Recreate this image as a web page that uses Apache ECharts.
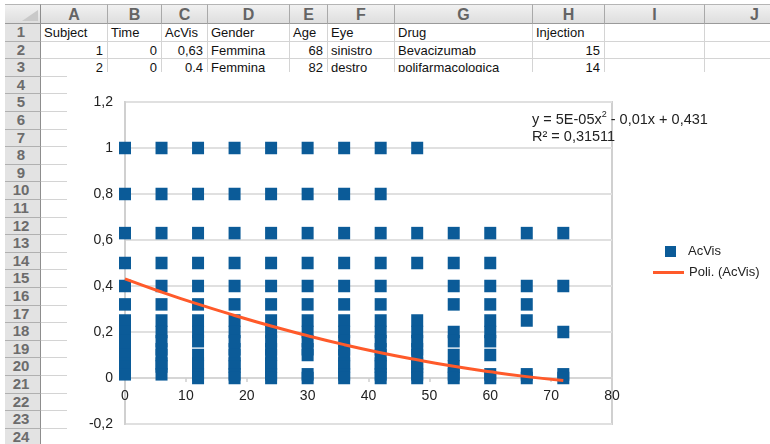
<!DOCTYPE html>
<html>
<head>
<meta charset="utf-8">
<script src="https://cdn.jsdelivr.net/npm/echarts/dist/echarts.min.js"></script>
<style>
html,body{margin:0;padding:0;background:#fff;width:770px;height:444px;overflow:hidden;font-family:"Liberation Sans",Arial,sans-serif;}
#sheet{position:absolute;left:0;top:0;width:770px;height:444px;overflow:hidden;}
.cell{position:absolute;box-sizing:border-box;border-right:1px solid #d4d4d4;border-bottom:1px solid #d4d4d4;font-size:13px;color:#111;white-space:nowrap;overflow:visible;padding:1px 4px 0 3px;}
.colh{position:absolute;box-sizing:border-box;background:linear-gradient(#f1f1f1,#dedede);border-right:1px solid #a9a9a9;border-bottom:1px solid #9a9a9a;border-top:1px solid #b5b5b5;text-align:center;font-weight:bold;font-size:16px;color:#646464;}
.rowh{position:absolute;box-sizing:border-box;background:#e3e3e3;border-right:1px solid #8d8d8d;border-bottom:1px solid #b0b0b0;text-align:center;font-weight:bold;font-size:15px;color:#6c6c6c;padding-right:3px;}
#chartbg{position:absolute;left:67px;top:72px;width:703px;height:372px;background:#fff;}
#chart{position:absolute;left:0;top:0;width:770px;height:444px;}
</style>
</head>
<body>
<div id="sheet"></div>
<div id="chartbg"></div>
<div id="chart"></div>
<script>
// ---------- spreadsheet content ----------
const colLetters = ['A','B','C','D','E','F','G','H','I','J'];
const row1Cells = ['Subject','Time','AcVis','Gender','Age','Eye','Drug','Injection','',''];
const row2Cells = ['1','0','0,63','Femmina','68','sinistro','Bevacizumab','15','',''];
const row3Cells = ['2','0','0,4','Femmina','82','destro','polifarmacologica','14','',''];
const rowCount = 24;

// ---------- chart data ----------
const timePoints = [0, 6, 12, 18, 24, 30, 36, 42, 48, 54, 60, 66, 72];
const acvisT0  = [1, 0.8, 0.63, 0.5, 0.4, 0.32, 0.25, 0.2, 0.16, 0.125, 0.1, 0.063, 0.05, 0.016];
const acvisT6  = [1, 0.8, 0.63, 0.5, 0.4, 0.32, 0.25, 0.2, 0.16, 0.125, 0.1, 0.063, 0.05, 0.016];
const acvisT12 = [1, 0.8, 0.63, 0.5, 0.4, 0.32, 0.25, 0.2, 0.16, 0.1, 0.063, 0.05, 0.016, 0];
const acvisT18 = [1, 0.8, 0.63, 0.5, 0.4, 0.32, 0.25, 0.2, 0.16, 0.125, 0.1, 0.063, 0.05, 0.016, 0];
const acvisT24 = [1, 0.8, 0.63, 0.5, 0.4, 0.32, 0.25, 0.2, 0.16, 0.125, 0.1, 0.063, 0.05, 0.016, 0];
const acvisT30 = [1, 0.8, 0.63, 0.5, 0.4, 0.32, 0.25, 0.2, 0.16, 0.125, 0.1, 0.016, 0];
const acvisT36 = [1, 0.8, 0.63, 0.5, 0.4, 0.32, 0.25, 0.2, 0.16, 0.125, 0.1, 0.063, 0.05, 0.016, 0];
const acvisT42 = [1, 0.8, 0.63, 0.5, 0.4, 0.32, 0.25, 0.2, 0.16, 0.125, 0.1, 0.063, 0.05, 0.016, 0];
const acvisT48 = [1, 0.63, 0.5, 0.25, 0.2, 0.16, 0.125, 0.1, 0.063, 0.05, 0.016, 0];
const acvisT54 = [0.63, 0.5, 0.4, 0.32, 0.2, 0.16, 0.1, 0.05, 0.016, 0];
const acvisT60 = [0.63, 0.5, 0.4, 0.32, 0.25, 0.2, 0.16, 0.1, 0.016, 0];
const acvisT66 = [0.63, 0.4, 0.32, 0.25, 0.016, 0];
const acvisT72 = [0.63, 0.4, 0.2, 0.016, 0];
const trendX = [0, 6, 12, 18, 24, 30, 36, 42, 48, 54, 60, 66, 72];
const trendY = [0.431, 0.374, 0.321, 0.272, 0.226, 0.184, 0.145, 0.110, 0.079, 0.051, 0.027, 0.006, -0.011];
const yTickLabels = ['-0,2','0','0,2','0,4','0,6','0,8','1','1,2'];
const xTickLabels = ['0','10','20','30','40','50','60','70','80'];
const equationText = 'y = 5E-05x';
const equationRest = ' - 0,01x + 0,431';
const r2Text = 'R² = 0,31511';

// ---------- build spreadsheet ----------
(function(){
  const sheet = document.getElementById('sheet');
  const edges = [41,108,162,208,290,328,395,533,605,705,805];
  const headTop = 4, headH = 20, rowH = 17.6, rhLeft = 5;
  function add(cls, l, t, w, h, txt, extra){
    const d = document.createElement('div');
    d.className = cls;
    d.style.left = l+'px'; d.style.top = t+'px'; d.style.width = w+'px'; d.style.height = h+'px';
    d.style.lineHeight = (h-1)+'px';
    if (extra) Object.assign(d.style, extra);
    d.textContent = txt;
    sheet.appendChild(d);
    return d;
  }
  add('colh', rhLeft, headTop, edges[0]-rhLeft, headH, '', {borderRight:'1px solid #8d8d8d'});
  const tri = document.createElement('div');
  Object.assign(tri.style,{position:'absolute',left:'22px',top:'10px',width:0,height:0,borderLeft:'16px solid transparent',borderBottom:'11px solid #c9c9c9'});
  sheet.appendChild(tri);
  colLetters.forEach((c,i)=>add('colh', edges[i], headTop, edges[i+1]-edges[i], headH, c));
  const rows = [row1Cells,row2Cells,row3Cells];
  for (let r=1;r<=rowCount;r++){
    const top = headTop+headH+(r-1)*rowH;
    add('rowh', rhLeft, top, edges[0]-rhLeft, rowH, String(r));
    const data = rows[r-1];
    for (let c=0;c<colLetters.length;c++){
      const txt = data ? data[c] : '';
      const num = /^[\d,]+$/.test(txt);
      add('cell', edges[c], top, edges[c+1]-edges[c], rowH, txt, {textAlign: num?'right':'left'});
    }
  }
})();

// ---------- chart ----------
const FONT = '"Liberation Sans", Arial, sans-serif';
const acvisColumns = [acvisT0, acvisT6, acvisT12, acvisT18, acvisT24, acvisT30, acvisT36, acvisT42, acvisT48, acvisT54, acvisT60, acvisT66, acvisT72];
const scatterData = [];
timePoints.forEach((t, i) => acvisColumns[i].forEach(v => scatterData.push([t, v])));
const trendData = trendX.map((x, i) => [x, trendY[i]]);

function fmtY(v){
  const idx = Math.round((v + 0.2) / 0.2);
  return yTickLabels[idx] !== undefined ? yTickLabels[idx] : String(v);
}
function fmtX(v){
  const idx = Math.round(v / 10);
  return xTickLabels[idx] !== undefined ? xTickLabels[idx] : String(v);
}

const gridTop = 102, gridBottom = 20, chartH = 444;
// distance from the bottom of the plot (-0.2) to the zero line, in pixels
const zeroOffset = (chartH - gridTop - gridBottom) * (0.2 / 1.4);

const chart = echarts.init(document.getElementById('chart'), null, {renderer:'canvas'});
chart.setOption({
  animation: false,
  backgroundColor: 'transparent',
  textStyle: {fontFamily: FONT},
  grid: {left:125, top:gridTop, right:158, bottom:gridBottom, show:true, borderColor:'#d0d0d0', borderWidth:2,
         backgroundColor:'transparent', containLabel:false, outerBoundsMode:'none'},
  xAxis: {
    type:'value', min:0, max:80, interval:10, position:'bottom', offset: -zeroOffset,
    axisLine:{show:true, onZero:false, lineStyle:{color:'#d6d6d6', width:2}},
    axisTick:{show:true, length:4, lineStyle:{color:'#d0d0d0', width:1.5}},
    axisLabel:{color:'#222', fontSize:14, margin:11, fontFamily:FONT, formatter: fmtX},
    splitLine:{show:false}
  },
  yAxis: {
    type:'value', min:-0.2, max:1.2, interval:0.2,
    axisLine:{show:true, onZero:false, lineStyle:{color:'#d0d0d0', width:2}},
    axisTick:{show:false},
    axisLabel:{color:'#222', fontSize:14, margin:12, fontFamily:FONT, formatter: fmtY},
    splitLine:{show:true, lineStyle:{color:'#e0e0e0', width:2}}
  },
  legend: [
    {data:['AcVis'], left:665, top:245, padding:0, itemWidth:11, itemHeight:11, icon:'rect',
     textStyle:{fontSize:13, color:'#222', fontFamily:FONT, padding:[0,0,0,7]}},
    {data:['Poli. (AcVis)'], left:653, top:266, padding:0, itemWidth:31, itemHeight:3, icon:'rect',
     textStyle:{fontSize:13, color:'#222', fontFamily:FONT}}
  ],
  graphic: [
    {type:'text', left:532, top:110, z:10, style:{
      text:'{n|' + equationText + '}{s|2}{n|' + equationRest + '}',
      rich:{n:{fontSize:14.5, fontFamily:FONT, fill:'#222', lineHeight:17, verticalAlign:'bottom'},
            s:{fontSize:9, fontFamily:FONT, fill:'#222', lineHeight:17, verticalAlign:'top'}},
      fill:'#222'
    }},
    {type:'text', left:532, top:129, z:10, style:{text:r2Text, font:'14.5px ' + FONT, fill:'#222'}}
  ],
  series: [
    {name:'AcVis', type:'scatter', symbol:'rect', symbolSize:[12, 12.5], data:scatterData,
     itemStyle:{color:'#0b5b98', opacity:1, borderWidth:0}, z:2},
    {name:'Poli. (AcVis)', type:'line', data:trendData, smooth:true, showSymbol:false, symbol:'none',
     lineStyle:{color:'#ff5a2a', width:3}, itemStyle:{color:'#ff5a2a'}, z:3}
  ]
});
</script>
</body>
</html>
